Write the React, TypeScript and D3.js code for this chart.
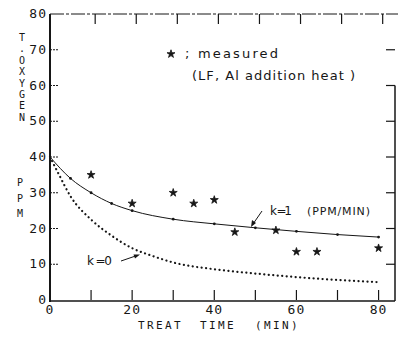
import * as d3 from 'd3'

// measured points (treat time min, total oxygen ppm)
const measuredTime = [10, 20, 30, 35, 40, 45, 55, 60, 65, 80]
const measuredO = [35, 27, 30, 27, 28, 19, 19.5, 13.5, 13.5, 14.5]

// k = 1 (PPM/MIN) curve
const k1Time = [0, 5, 10, 15, 20, 30, 40, 50, 60, 70, 80]
const k1O = [40, 34, 30, 27, 25, 22.6, 21.3, 20.2, 19.2, 18.3, 17.6]

// k = 0 curve
const k0Time = [0, 2, 5, 10, 15, 20, 25, 30, 40, 50, 60, 70, 80]
const k0O = [40, 35.5, 29, 22.5, 18, 14.5, 12.3, 10.5, 8.6, 7.4, 6.4, 5.6, 5.0]

const xLabels = [0, 20, 40, 60, 80]
const xTicks = [10, 20, 30, 40, 50, 60, 70, 80]
const yLabels = [0, 10, 20, 30, 40, 50, 60, 70, 80]
const yTicks = [10, 20, 30, 40, 50, 60, 70]
const yTitle = 'T.OXYGEN'
const yUnit = 'PPM'

const W = 398
const H = 338
const ink = '#161616'

export default function App() {
  const x = d3.scaleLinear().domain([0, 84]).range([50, 395])
  const y = d3.scaleLinear().domain([0, 80]).range([300, 14])

  const k1 = k1Time.map((t, i) => [t, k1O[i]] as [number, number])
  const k0 = k0Time.map((t, i) => [t, k0O[i]] as [number, number])
  const line = d3.line<[number, number]>()
    .x(d => x(d[0]))
    .y(d => y(d[1]))
    .curve(d3.curveMonotoneX)

  const star = d3.symbol().type(d3.symbolStar).size(20)()
  const tickFont = { fontFamily: 'DejaVu Sans Mono', fontSize: 13, fill: ink }
  const noteFont = { fontFamily: 'DejaVu Sans', fontSize: 13, fill: ink }
  const vert = { writingMode: 'vertical-rl', textOrientation: 'upright' } as React.CSSProperties

  return (
    <svg width={W} height={H} style={{ position: 'absolute', left: 0, top: 0, background: '#fff' }}>
      {/* frame */}
      <line x1={x(0)} x2={x(0)} y1={y(80)} y2={y(0) + 2} stroke={ink} strokeWidth={2} />
      <line x1={x(0)} x2={x(84)} y1={y(0) + 1} y2={y(0) + 1} stroke={ink} strokeWidth={1.5} />
      <line x1={x(0)} x2={W} y1={y(80)} y2={y(80)} stroke={ink} strokeWidth={1} strokeDasharray="14 2 3 2" />
      <line x1={x(84)} x2={x(84)} y1={y(60)} y2={y(0) + 1} stroke={ink} strokeWidth={1.5} />

      {/* ticks */}
      {xTicks.map(t => (
        <g key={'xt' + t}>
          <line x1={x(t)} x2={x(t)} y1={y(0)} y2={y(0) - 10} stroke={ink} strokeWidth={1.2} />
          <line x1={x(t + 1)} x2={x(t + 1)} y1={y(80)} y2={y(80) + 10} stroke={ink} strokeWidth={1.2} />
        </g>
      ))}
      {yTicks.map(t => (
        <g key={'yt' + t}>
          <line x1={x(0)} x2={x(0) + 9} y1={y(t)} y2={y(t)} stroke={ink} strokeWidth={1} strokeDasharray="2 1" />
          <line x1={x(84)} x2={x(84) - 9} y1={y(t)} y2={y(t)} stroke={ink} strokeWidth={1.2} />
        </g>
      ))}

      {/* tick labels */}
      {xLabels.map(t => (
        <text key={'xl' + t} x={x(t)} y={314} textAnchor="middle" letterSpacing={1} {...tickFont}>{t}</text>
      ))}
      {yLabels.map(t => (
        <text key={'yl' + t} x={47} y={y(t) + 4} textAnchor="end" letterSpacing={1} {...tickFont}>{t}</text>
      ))}

      {/* axis titles */}
      <text x={22} y={32} fontFamily="DejaVu Sans Mono" fontSize={10} letterSpacing={0.4} fill={ink} style={vert}>{yTitle}</text>
      <text x={20} y={177} fontFamily="DejaVu Sans Mono" fontSize={10} letterSpacing={4.5} fill={ink} style={vert}>{yUnit}</text>
      <text x={138} y={329} fontFamily="DejaVu Sans Mono" fontSize={11} letterSpacing={2.4} fill={ink}>TREAT</text>
      <text x={200} y={329} fontFamily="DejaVu Sans Mono" fontSize={11} letterSpacing={2.4} fill={ink}>TIME</text>
      <text x={255} y={329} fontFamily="DejaVu Sans Mono" fontSize={11} letterSpacing={2.4} fill={ink}>(MIN)</text>

      {/* curves */}
      <path d={line(k1) || ''} fill="none" stroke={ink} strokeWidth={1} />
      {k1.slice(1).map((d, i) => (
        <circle key={'k1' + i} cx={x(d[0])} cy={y(d[1])} r={1.4} fill={ink} />
      ))}
      <path d={line(k0) || ''} fill="none" stroke={ink} strokeWidth={2.2} strokeLinecap="round" strokeDasharray="0.1 4.4" />

      {/* measured */}
      {measuredTime.map((t, i) => (
        <path key={'m' + i} d={star || ''} transform={`translate(${x(t)},${y(measuredO[i])})`} fill={ink} stroke={ink} strokeWidth={0.8} />
      ))}

      {/* notes */}
      <path d={star || ''} transform="translate(171,54)" fill={ink} stroke={ink} strokeWidth={0.8} />
      <text x={185} y={58} {...noteFont}>;</text>
      <text x={198} y={58} textLength={80} lengthAdjust="spacing" {...noteFont}>measured</text>
      <text x={192} y={80} textLength={163} lengthAdjust="spacing" {...noteFont}>(LF, Al addition heat )</text>

      <text x={270} y={215} textLength={22} lengthAdjust="spacing" {...noteFont} fontSize={12}>k =1</text>
      <text x={307} y={215} textLength={63} lengthAdjust="spacing" {...noteFont} fontSize={11}>(PPM/MIN)</text>
      <line x1={262} y1={211} x2={253} y2={224} stroke={ink} strokeWidth={1} />
      <path d="M251,227 L252,220 L256,223 Z" fill={ink} />

      <text x={87} y={265} textLength={25} lengthAdjust="spacing" {...noteFont} fontSize={12}>k =0</text>
      <line x1={121} y1={261} x2={137} y2={255.5} stroke={ink} strokeWidth={1} />
      <path d="M140,254.5 L133.5,254.5 L135,258.5 Z" fill={ink} />
    </svg>
  )
}
